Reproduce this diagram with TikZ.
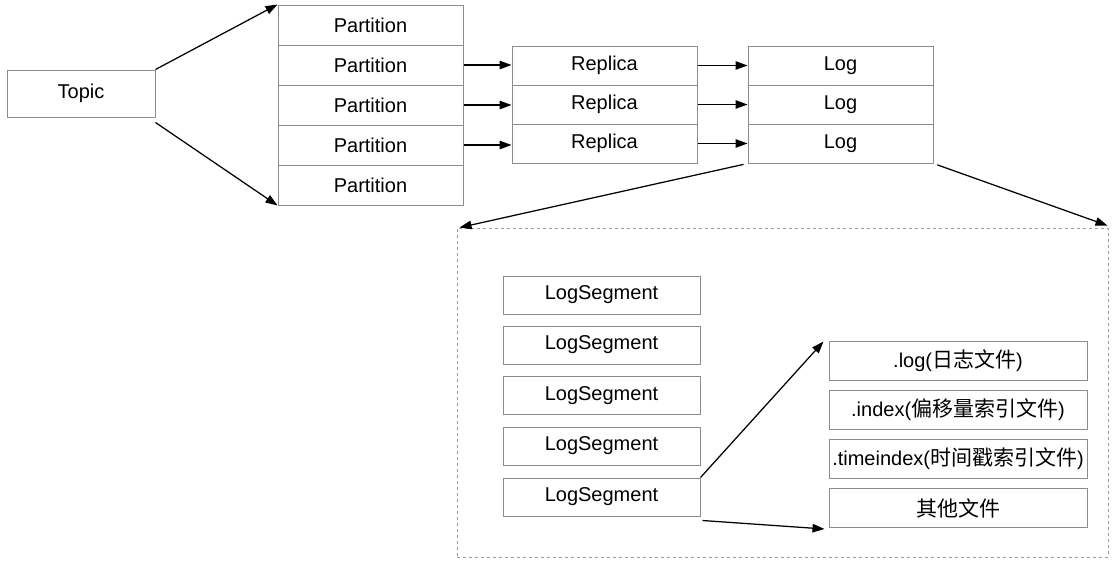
\documentclass[tikz,border=0pt]{standalone}
\usepackage{fontspec}
\setmainfont{Liberation Sans}
\newfontfamily\cjk[Scale=1.05]{Noto Sans CJK SC}
\usepackage{xcolor}
\usetikzlibrary{arrows.meta,positioning,calc}
\definecolor{boxline}{HTML}{8C8C8C}
\definecolor{dashline}{HTML}{9A9A9A}

\begin{document}
\begin{tikzpicture}[x=1pt,y=-1pt,
  every node/.style={font=\fontsize{20}{23}\selectfont,align=center,inner sep=0pt},
  cell/.style={draw=boxline,fill=white,line width=1pt,minimum width=185pt,minimum height=40pt},
  topicbox/.style={cell,minimum width=148pt,minimum height=47pt},
  segbox/.style={cell,minimum width=197pt,minimum height=38pt},
  filebox/.style={cell,minimum width=258pt,minimum height=39pt},
  group/.style={draw=dashline,dashed,line width=0.9pt,minimum width=651pt,minimum height=329pt},
  flow/.style={-{Triangle[length=12pt,width=8.5pt]},draw=black,line width=1.25pt}
]
  \useasboundingbox (0,0) rectangle (1119,570);
  \node[topicbox] (topic) at (81,93.5) {Topic};
  \foreach \i in {1,...,5}
    \node[cell] (p\i) at (370.5,{-15+40*\i}) {Partition};
  \foreach \i/\y in {1/65.5,2/104.5,3/143.5} {
    \node[cell,minimum height=39pt] (r\i) at (604.5,\y) {Replica};
    \node[cell,minimum height=39pt] (l\i) at (840.5,\y) {Log};
  }
  \node[group] (logbox) at (782.5,392.5) {};
  \foreach \i/\y in {1/295,2/345,3/395.5,4/446,5/497}
    \node[segbox] (s\i) at (601.5,\y) {LogSegment};
  \node[filebox] (f1) at (958,360.5) {.log({\cjk 日志文件})};
  \node[filebox] (f2) at (958,410) {.index({\cjk 偏移量索引文件})};
  \node[filebox] (f3) at (958,458.5) {.timeindex({\cjk 时间戳索引文件})};
  \node[filebox] (f4) at (958,508) {{\cjk 其他文件}};
  % topic to partitions
  \draw[flow] (topic.north east) -- (p1.north west);
  \draw[flow] ($(topic.south east)+(0,5)$) -- (p5.south west);
  % partition -> replica -> log
  \foreach \i/\j in {1/2,2/3,3/4} {
    \draw[flow] (p\j.east) -- (p\j.east -| r\i.west);
    \draw[flow] (r\i.east) -- (l\i.west);
  }
  % log expanded
  \draw[flow,shorten <=4pt] (l3.south west) -- ($(logbox.north west)+(3,0)$);
  \draw[flow,shorten <=4pt] (l3.south east) -- ($(logbox.north east)+(-1,-2)$);
  \draw[flow] (s5.north east) -- ($(f1.north west)+(-5,1)$);
  \draw[flow] ($(s5.south east)+(2,4)$) -- ($(f4.south west)+(-4,1)$);
\end{tikzpicture}
\end{document}
